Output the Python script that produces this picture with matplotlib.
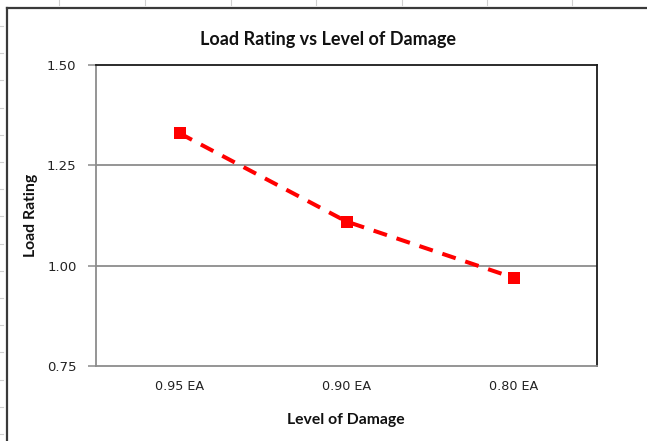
import matplotlib
matplotlib.use("Agg")
import matplotlib.pyplot as plt
from matplotlib.lines import Line2D

categories = ["0.95 EA", "0.90 EA", "0.80 EA"]
load_rating = [1.33, 1.11, 0.97]
y_ticks = [0.75, 1.00, 1.25, 1.50]
y_tick_labels = ["0.75", "1.00", "1.25", "1.50"]

W, H = 647, 441
fig = plt.figure(figsize=(W / 100, H / 100), dpi=100)
fig.patch.set_facecolor("white")

# plot area in pixels: left 96, right 597, top 65, bottom 366
l, r, t, b = 96, 597, 65, 366
ax = fig.add_axes([l / W, 1 - b / H, (r - l) / W, (b - t) / H])

x = list(range(len(categories)))
ax.plot(x, load_rating, color="#ff0000", linestyle=(0, (3.5, 2.5)), linewidth=2.9,
        marker="s", markersize=8.5, markeredgewidth=0, zorder=5)

ax.set_xlim(-0.5, len(categories) - 0.5)
ax.set_ylim(0.75, 1.50)
ax.set_yticks(y_ticks)
ax.set_yticklabels(y_tick_labels)
ax.set_xticks(x)
ax.set_xticklabels(categories)

for yv in y_ticks[1:-1]:
    ax.axhline(yv, color="#8c8c8c", linewidth=1.3, zorder=1)

for s in ["top", "right"]:
    ax.spines[s].set_color("#1a1a1a")
    ax.spines[s].set_linewidth(1.3)
for s in ["left", "bottom"]:
    ax.spines[s].set_color("#8c8c8c")
    ax.spines[s].set_linewidth(1.3)

ax.tick_params(axis="y", length=6, width=1.1, color="#8c8c8c", pad=8,
               labelsize=9.5, labelcolor="#222222")
ax.tick_params(axis="x", length=0, pad=10, labelsize=9.2, labelcolor="#222222")
for lab in ax.get_xticklabels() + ax.get_yticklabels():
    lab.set_family("DejaVu Sans")

fig.text(328 / W, 1 - 40 / H, "Load Rating vs Level of Damage", ha="center", va="center",
         fontsize=13, fontweight="bold", family="Lato", color="#111111")
fig.text(346 / W, 1 - 420 / H, "Level of Damage", ha="center", va="center",
         fontsize=11.3, fontweight="bold", family="Lato", color="#111111")
fig.text(31 / W, 1 - 215 / H, "Load Rating", ha="center", va="center", rotation=90,
         fontsize=11.3, fontweight="bold", family="Lato", color="#111111")

# outer chart frame (extends beyond right and bottom edge)
fig.add_artist(Line2D([7 / W, 7 / W], [0, 1 - 7.5 / H], transform=fig.transFigure,
                      color="#3a3a3a", linewidth=1.6))
fig.add_artist(Line2D([7 / W, 1], [1 - 7.5 / H, 1 - 7.5 / H], transform=fig.transFigure,
                      color="#3a3a3a", linewidth=1.6))

# faint spreadsheet cell gridline stubs outside the frame
for yy in [26, 53, 80, 108, 135, 162, 189, 216, 244, 271, 298, 325, 352, 380, 407, 434]:
    fig.add_artist(Line2D([0, 3 / W], [1 - yy / H, 1 - yy / H], transform=fig.transFigure,
                          color="#d0d0d0", linewidth=0.8))
for xx in [59, 145, 231, 316, 402, 487, 572]:
    fig.add_artist(Line2D([xx / W, xx / W], [1, 1 - 5 / H], transform=fig.transFigure,
                          color="#d0d0d0", linewidth=0.8))

fig.savefig("out.png", dpi=100, facecolor="white")
